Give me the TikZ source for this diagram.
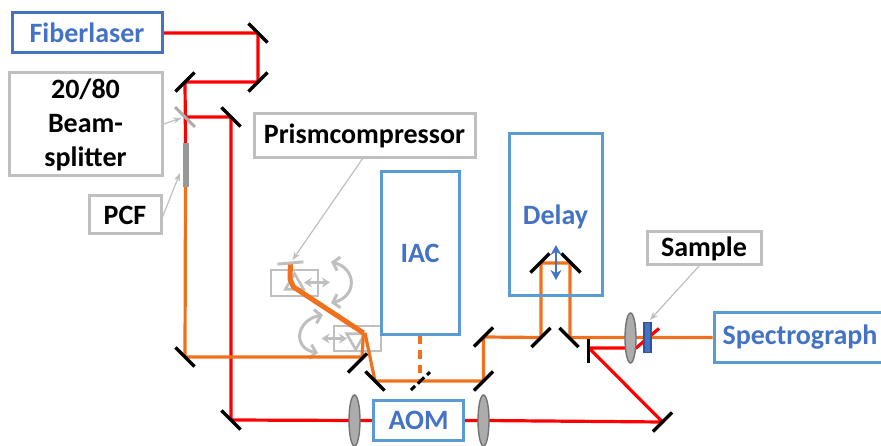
\documentclass[tikz,border=0pt]{standalone}
\usepackage{fontspec}
\setmainfont{Carlito}
\usetikzlibrary{
  arrows.meta,
  positioning,
  shapes.geometric
}
\definecolor{bluetxt}{HTML}{4472C4}
\definecolor{bluebox}{HTML}{5B9BD5}
\definecolor{greybox}{HTML}{BFBFBF}
\definecolor{beamred}{HTML}{FF0000}
\definecolor{beamorange}{HTML}{F0701C}
\definecolor{probeblue}{HTML}{2F5597}
\pgfdeclarelayer{front}
\pgfsetlayers{main,front}

\begin{document}
\begin{tikzpicture}[
      x=1pt, y=-1pt,
      >={Stealth},
      device/.style={draw=bluebox, line width=3pt, fill=white, inner sep=0pt,
                     text=bluetxt, font=\fontsize{28}{32}\selectfont\bfseries},
      label/.style={draw=greybox, line width=3pt, fill=white, inner sep=0pt,
                    align=center, font=\fontsize{28}{34}\selectfont\bfseries},
      mirror/.style={fill=black, inner sep=0pt, minimum width=27pt, minimum height=3.2pt, rotate=#1},
      lens/.style={ellipse, draw=gray!90!black, line width=1.4pt, fill=gray!65, inner sep=0pt,
                   minimum width=11pt, minimum height=#1},
      prismbox/.style={draw=greybox, line width=2.8pt, inner sep=0pt},
      redbeam/.style={draw=beamred, line width=3.2pt, line join=round},
      orangebeam/.style={draw=beamorange, line width=3.2pt, line join=round},
      pointer/.style={->, draw=greybox, line width=1.2pt},
      greyarrow/.style={<->, draw=greybox, line width=2.6pt, >={Stealth[length=8pt,width=10pt]}},
      swing/.style={<->, draw=greybox, line width=3pt, >={Straight Barb[length=6pt,width=14pt]}}
  ]
      \useasboundingbox (0,0) rectangle (881,446);

      % --- PRISMS ---
      \node[prismbox, minimum width=47pt, minimum height=26pt] (prismA) at (294.5,283) {};
      \node[prismbox, minimum width=47pt, minimum height=25pt] (prismB) at (357.5,338.5) {};
      \node[draw=greybox, line width=2.6pt, regular polygon, regular polygon sides=3, inner sep=0pt, minimum size=21pt] (triA) at (294.5,284) {};
      \node[draw=greybox, line width=2.6pt, regular polygon, regular polygon sides=3, shape border rotate=180, inner sep=0pt, minimum size=21pt] (triB) at (355.7,339) {};
      \coordinate (moveAa) at (304,282.5);
      \coordinate (moveAb) at (330,282.5);
      \coordinate (moveBa) at (321.5,338.5);
      \coordinate (moveBb) at (347,338.5);
      \draw[greyarrow] (moveAa) -- (moveAb);
      \draw[greyarrow] (moveBa) -- (moveBb);
      \coordinate (swingAa) at (331,262);
      \coordinate (swingAb) at (331,303);
      \coordinate (swingBa) at (323,315);
      \coordinate (swingBb) at (318,353);
      \draw[swing] (swingAa) .. controls (356,268) and (358,296) .. (swingAb);
      \draw[swing] (swingBa) .. controls (296,320) and (292,348) .. (swingBb);

      \begin{pgfonlayer}{front}
      % --- BOXES ---
      \node[device, draw=bluetxt, minimum width=150pt, minimum height=40pt] (laser) at (87,33) {Fiberlaser};
      \node[device, minimum width=78pt, minimum height=163pt] (iac) at (420,253.5) {IAC};
      \node[device, fill=none, minimum width=93pt, minimum height=162pt] (delay) at (555.5,215) {};
      \node[text=bluetxt, font=\fontsize{28}{32}\selectfont\bfseries] (delaytxt) at (555.5,217) {Delay};
      \node[device, minimum width=90pt, minimum height=40pt] (aom) at (418.5,420.5) {AOM};
      \node[device, minimum width=172pt, minimum height=49pt] (spectro) at (800,337.5) {Spectrograph};
      \node[label, minimum width=153pt, minimum height=103pt] (split) at (85.5,124.5) {20/80\\Beam-\\splitter};
      \node[label, minimum width=72pt, minimum height=38pt] (pcf) at (125,215) {PCF};
      \node[label, minimum width=221pt, minimum height=44pt] (compressor) at (364.5,136) {Prismcompressor};
      \node[label, minimum width=114pt, minimum height=33pt] (sample) at (704,248.5) {Sample};

      % --- MIRRORS ---
      \node[mirror=-45] (m1) at (258,33) {};
      \node[mirror=45]  (m2) at (258,82) {};
      \node[mirror=45]  (m3) at (185,82) {};
      \node[mirror=-45] (m4) at (231,117) {};
      \node[mirror=-45] (m5) at (231,420) {};
      \node[mirror=-45] (m6) at (185,357) {};
      \node[mirror=45]  (m7) at (357.5,363) {};
      \node[mirror=-45] (m8) at (375,381) {};
      \node[mirror=45]  (m10) at (483.5,381) {};
      \node[mirror=45]  (m11) at (483.5,337) {};
      \node[mirror=45]  (m12) at (541,337.5) {};
      \node[mirror=45]  (m13) at (540,263) {};
      \node[mirror=-45] (m14) at (571,263) {};
      \node[mirror=-45] (m15) at (569,337.5) {};
      \node[mirror=90, minimum width=24pt]  (m16) at (588.5,351) {};
      \node[mirror=45]  (m17) at (662.5,422) {};

      % --- SPECIAL PARTS ---
      \node[fill=greybox!70!gray, inner sep=0pt, minimum width=28pt, minimum height=3pt, rotate=-45] (bs) at (185,117) {};
      \node[fill=greybox, inner sep=0pt, minimum width=26pt, minimum height=3pt, rotate=5] (m0) at (290.5,263) {};
      \node[fill=gray!80, inner sep=0pt, minimum width=6pt, minimum height=44pt] (fibre) at (185.5,165) {};
      \node[lens=51pt] (l1) at (354.5,420.5) {};
      \node[lens=51pt] (l2) at (483.5,420.5) {};
      \node[lens=50pt] (l3) at (630.5,338) {};
      \node[draw=probeblue, line width=1.6pt, fill=bluetxt, inner sep=0pt, minimum width=7pt, minimum height=30pt] (probe) at (647.5,337.5) {};
      \end{pgfonlayer}

      % --- RED BEAM ---
      \coordinate (k2) at (589,348);
      \coordinate (k3) at (636,348);
      \coordinate (k4) at (659,328.5);
      \draw[redbeam] (laser.east) -- (m1.center) -- (m2.center) -- (m3.center) -- (fibre.north);
      \draw[redbeam] (bs.center) -- (m4.center) -- (m5.center) -- (l1.center) -- (aom.west);
      \draw[redbeam] (aom.east) -- (l2.center) -- (m17.center) -- (k2) -- (k3) -- (k4);

      % --- ORANGE BEAM ---
      \coordinate (k1) at (362,357);
      \coordinate (c1) at (363.5,333);
      \coordinate (c2) at (293.5,287);
      \coordinate (c3) at (290,279);
      \coordinate (c4) at (365,333);
      \coordinate (dash) at (420,381);
      \draw[orangebeam] (fibre.south) -- (m6.center) -- (k1) -- (c1);
      \draw[orangebeam, line width=5pt] (c1) -- (c2) -- (c3) -- (m0.center);
      \draw[orangebeam] (c4) -- (m8.center) -- (m10.center) -- (m11.center) -- (m12.center) -- (541,263) -- (570,263) -- (570,337.5) -- (spectro.west);
      \draw[orangebeam, dashed, dash pattern=on 8pt off 6pt] (iac.south) -- (dash);
      \begin{pgfonlayer}{front}
      \node[fill=black, inner sep=0pt, minimum height=3pt, minimum width=6pt, rotate=45] (d1) at (413,388) {};
      \node[fill=black, inner sep=0pt, minimum height=3pt, minimum width=9pt, rotate=45] (d2) at (421,380.5) {};
      \node[fill=black, inner sep=0pt, minimum height=3pt, minimum width=4pt, rotate=45] (d3) at (428.5,373.5) {};
      \end{pgfonlayer}

      % --- POINTERS ---
      \coordinate (tipbs) at (181.5,118);
      \coordinate (tippcf) at (180,173);
      \coordinate (tipm0) at (292.5,260);
      \coordinate (tipprobe) at (650,320);
      \draw[pointer] (split.east |- 0,124) -- (tipbs);
      \draw[pointer] (pcf.east |- 0,217) -- (tippcf);
      \draw[pointer] (363,158) -- (tipm0);
      \draw[pointer] (700,265) -- (tipprobe);

      \begin{pgfonlayer}{front}
      \coordinate (aa) at (556,245);
      \coordinate (ab) at (556,280);
      \draw[<->, draw=bluetxt, line width=2.8pt, >={Stealth[length=10pt,width=11pt]}] (aa) -- (ab);
      \end{pgfonlayer}
  \end{tikzpicture}
\end{document}
